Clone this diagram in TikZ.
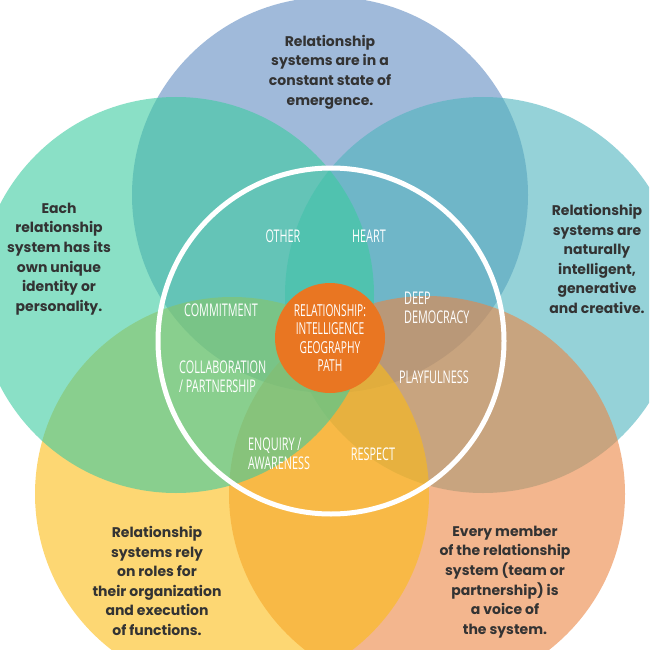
\documentclass[tikz,border=0pt]{standalone}
\usepackage{fontspec}
\setmainfont{Poppins}
\newfontfamily\condfont[FakeStretch=0.62]{Open Sans}
\usepackage{xcolor}

\definecolor{topblue}{RGB}{97,140,193}
\definecolor{leftteal}{RGB}{60,203,160}
\definecolor{rightcyan}{RGB}{78,180,190}
\definecolor{lowyellow}{RGB}{252,188,22}
\definecolor{lowsalmon}{RGB}{235,133,67}
\definecolor{coreorange}{RGB}{233,118,34}
\definecolor{textgray}{RGB}{51,51,51}

\begin{document}
\begin{tikzpicture}[x=1pt,y=-1pt,
    petal/.style={fill opacity=0.6},
    outer/.style={font=\bfseries\fontsize{14}{19.6}\selectfont, text=textgray, align=center, inner sep=0pt},
    inner/.style={font=\condfont\fontsize{17.5}{19}\selectfont, text=white, inner sep=0pt}]

    \useasboundingbox (0,0) rectangle (649,650);
    \clip (0,0) rectangle (649,650);

    \coordinate (topC) at (330,195);
    \coordinate (rightC) at (483,295);
    \coordinate (lowrightC) at (427,494);
    \coordinate (lowleftC) at (232,494);
    \coordinate (leftC) at (176,295);
    \coordinate (ringC) at (331,341);

    \fill[petal, topblue] (topC) circle (198pt);
    \fill[petal, rightcyan] (rightC) circle (198pt);
    \fill[petal, lowsalmon] (lowrightC) circle (198pt);
    \fill[petal, lowyellow] (lowleftC) circle (197pt);
    \fill[petal, leftteal] (leftC) circle (198pt);

    \draw[white, line width=5pt] (ringC) circle (173pt);

    \node[circle, fill=coreorange, minimum size=110pt, align=center, inner sep=0pt,
          font=\condfont\fontsize{16.5}{18.5}\selectfont, text=white] (core) at (330,338)
          {RELATIONSHIP:\\INTELLIGENCE\\GEOGRAPHY\\PATH};

    \node[outer] (topText) at (330,72) {Relationship\\systems are in a\\constant state of\\emergence.};
    \node[outer] (leftText) at (59,259) {Each\\relationship\\system has its\\own unique\\identity or\\personality.};
    \node[outer] (rightText) at (597,259) {Relationship\\systems are\\naturally\\intelligent,\\generative\\and creative.};
    \node[outer] (lowLeftText) at (157,581) {Relationship\\systems rely\\on roles for\\their organization\\and execution\\of functions.};
    \node[outer] (lowRightText) at (505,582) {Every member\\of the relationship\\system (team or\\partnership) is\\a voice of\\the system.};

    \node[inner] (other) at (283,236) {OTHER};
    \node[inner] (heart) at (369,236) {HEART};
    \node[inner] (commitment) at (221,310) {COMMITMENT};
    \node[inner, align=left, anchor=west] (democracy) at (404,308) {DEEP\\DEMOCRACY};
    \node[inner, align=left, anchor=west] (collab) at (179,377) {COLLABORATION\\/ PARTNERSHIP};
    \node[inner] (playful) at (434,377) {PLAYFULNESS};
    \node[inner, align=left, anchor=west] (enquiry) at (248,454) {ENQUIRY /\\AWARENESS};
    \node[inner] (respect) at (373,454) {RESPECT};
\end{tikzpicture}
\end{document}
